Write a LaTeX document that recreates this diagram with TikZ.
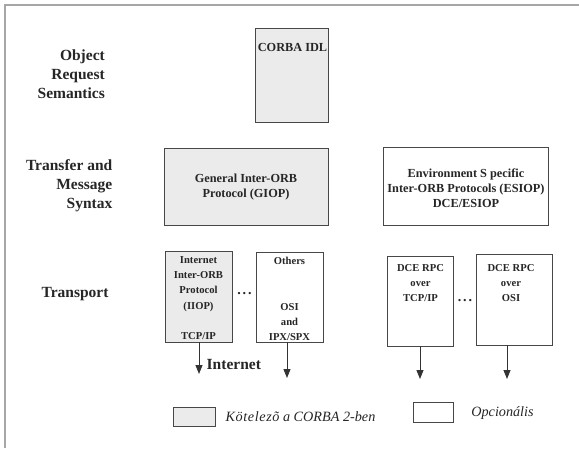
\documentclass[tikz,border=0pt]{standalone}
\usepackage{fontspec}
\setmainfont{Liberation Serif}
\usetikzlibrary{arrows.meta,calc}
\tikzset{
  graybox/.style={draw=black!72, fill=black!8, line width=0.9pt, inner sep=0pt},
  whitebox/.style={draw=black!72, fill=white, line width=0.9pt, inner sep=0pt},
  lbl/.style={font=\fontsize{15.5}{18.8}\selectfont\bfseries, text=black!85, align=right, inner sep=0pt},
  mid/.style={font=\fontsize{12.3}{14.8}\selectfont\bfseries, text=black!85, align=center, inner sep=0pt},
  small/.style={font=\fontsize{10.6}{15.2}\selectfont\bfseries, text=black!85, align=center, inner sep=0pt},
  leg/.style={font=\fontsize{14.2}{16}\selectfont\itshape, text=black!85, inner sep=0pt},
  dots/.style={font=\fontsize{14}{16}\selectfont\bfseries, text=black!85, inner sep=0pt},
  arr/.style={draw=black!80, line width=0.9pt, -{Triangle[width=7pt,length=9pt]}},
  frame/.style={draw=black!35, line width=1.3pt}
}
\begin{document}
\begin{tikzpicture}[x=1pt,y=-1pt]
\useasboundingbox (0,0) rectangle (579,448);
\fill[white] (0,0) rectangle (579,448);
% frame
\coordinate (fTL) at (5,5);
\coordinate (fTR) at (579,5);
\coordinate (fBL) at (5,448);
\draw[frame] (fTR) -- (fTL) -- (fBL);

% left labels
\node[lbl, anchor=east] (ors) at (105,74) {Object\\Request\\Semantics};
\node[lbl, anchor=east] (tms) at (112.5,186) {Transfer and\\Message\\Syntax};
\node[lbl] (tr) at (75,294) {Transport};

% CORBA IDL
\node[graybox, minimum width=73pt, minimum height=94pt] (idl) at (291.5,75) {};
\node[mid] (idlt) at (292.5,47) {CORBA IDL};

% GIOP
\node[graybox, minimum width=164pt, minimum height=77pt] (giop) at (246,186.5) {};
\node[mid] (giopt) at (246,187) {General Inter-ORB\\Protocol (GIOP)};

% ESIOP
\node[whitebox, minimum width=165pt, minimum height=78pt] (esiop) at (465.5,186) {};
\node[mid] (esiopt) at (466,188) {Environment S pecific\\Inter-ORB Protocols (ESIOP)\\DCE/ESIOP};

% IIOP
\node[graybox, minimum width=67pt, minimum height=91pt] (iiop) at (198.5,296.5) {};
\node[small] (iiopt) at (198.5,298) {Internet\\Inter-ORB\\Protocol\\(IIOP)\\\strut\\TCP/IP};

% Others
\node[whitebox, minimum width=67pt, minimum height=90pt] (oth) at (289.5,297) {};
\node[small] (otht) at (289.5,299) {Others\\\strut\\\strut\\OSI\\and\\IPX/SPX};

% DCE boxes
\node[whitebox, minimum width=66pt, minimum height=90pt] (dce1) at (420,301) {};
\node[small] (dce1t) at (420.5,283) {DCE RPC\\over\\TCP/IP};
\node[whitebox, minimum width=76pt, minimum height=91pt] (dce2) at (514,299.5) {};
\node[small] (dce2t) at (511,283) {DCE RPC\\over\\OSI};

% dots
\node[dots, anchor=base] (d1) at (244.5,294) {.\hspace{2pt}.\hspace{2pt}.};
\node[dots, anchor=base] (d2) at (465,301) {.\hspace{2pt}.\hspace{2pt}.};

% arrows
\coordinate (e1) at (199,374);
\coordinate (e2) at (287,378);
\coordinate (e3) at (420,379);
\coordinate (e4) at (507,379);
\draw[arr] (iiop.south -| e1) -- (e1);
\draw[arr] (oth.south -| e2) -- (e2);
\draw[arr] (dce1.south -| e3) -- (e3);
\draw[arr] (dce2.south -| e4) -- (e4);
\node[lbl, anchor=west] (inet) at (206.5,364) {Internet};

% legend
\node[graybox, minimum width=42pt, minimum height=19pt] (lg1) at (194,416.5) {};
\node[leg] (lg1t) at (300.5,416.5) {K\hspace{0.6pt}ö\hspace{0.6pt}t\hspace{0.6pt}e\hspace{0.6pt}l\hspace{0.6pt}e\hspace{0.6pt}z\hspace{0.6pt}õ a CORBA 2-ben};
\node[whitebox, minimum width=40pt, minimum height=20pt] (lg2) at (433,412) {};
\node[leg] (lg2t) at (502.5,413) {Opcionális};
\end{tikzpicture}
\end{document}
